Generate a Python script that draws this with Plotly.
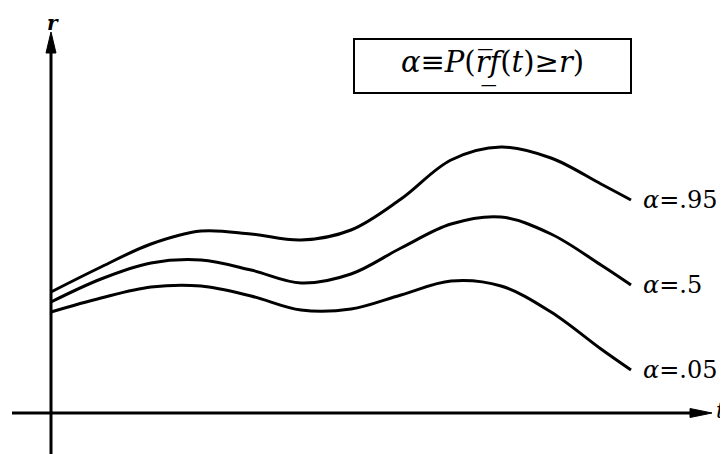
import plotly.graph_objects as go

# sample positions along t and the three quantile curves r(t)
t_vals = [0, 5, 10, 15, 20, 25, 30, 35, 40, 45, 50, 55, 58]
r_95 = [12.1, 14.6, 16.9, 18.2, 17.9, 17.3, 18.3, 21.4, 25.3, 26.6, 25.5, 22.9, 21.3]
r_50 = [11.1, 13.4, 15.0, 15.3, 14.3, 13.0, 13.9, 16.5, 18.9, 19.6, 17.9, 14.8, 12.8]
r_05 = [10.1, 11.5, 12.6, 12.7, 11.7, 10.3, 10.4, 11.8, 13.2, 12.7, 10.1, 6.4, 4.3]

curve_labels = ["=.95", "=.5", "=.05"]
curves = [r_95, r_50, r_05]

# axis extents
t_axis = [-3.9, 66.1]
r_axis = [-4.2, 38.1]

SERIF = "DejaVu Serif, Liberation Serif, serif"

fig = go.Figure()

for r in curves:
    fig.add_trace(go.Scatter(
        x=t_vals, y=r,
        mode="lines",
        line=dict(color="black", width=3, shape="spline", smoothing=1.0),
        hoverinfo="skip",
    ))

# axes drawn as lines with filled arrowheads
shapes = [
    dict(type="line", xref="x", yref="y", x0=0, x1=0, y0=r_axis[0], y1=r_axis[1] - 1.5,
         line=dict(color="black", width=3)),
    dict(type="line", xref="x", yref="y", x0=t_axis[0], x1=t_axis[1] - 1.5, y0=0, y1=0,
         line=dict(color="black", width=3)),
    dict(type="path", xref="x", yref="y",
         path=f"M -0.5,{r_axis[1] - 2.1} L 0,{r_axis[1]} L 0.5,{r_axis[1] - 2.1} Z",
         fillcolor="black", line=dict(color="black", width=1)),
    dict(type="path", xref="x", yref="y",
         path=f"M {t_axis[1] - 2.2},-0.45 L {t_axis[1]},0 L {t_axis[1] - 2.2},0.45 Z",
         fillcolor="black", line=dict(color="black", width=1)),
]

annotations = [
    dict(x=0.2, y=40.4, yanchor="top", text="<b><i>r</i></b>", showarrow=False,
         font=dict(family=SERIF, size=20, color="black")),
    dict(x=67.6, y=0.3, xanchor="right", text="<i>t</i>", showarrow=False,
         font=dict(family=SERIF, size=22, color="black")),
    dict(x=44.15, y=34.7,
         text="<i>α</i>≡<i>P</i>(<i>r\u0305</i><i>f\u0332</i>(<i>t</i>)≥<i>r</i>)",
         showarrow=False, width=275, height=52, borderpad=0,
         bordercolor="black", borderwidth=2, bgcolor="white",
         font=dict(family=SERIF, size=29, color="black")),
]

for r, lab in zip(curves, curve_labels):
    annotations.append(dict(
        x=t_vals[-1] + 1.0, y=r[-1], xanchor="left", yanchor="middle",
        text=f"<i>α</i>{lab}", showarrow=False,
        font=dict(family=SERIF, size=24, color="black"),
    ))

# the page body adds an 8px margin, so the figure is sized to fit the window
fig.update_layout(
    width=720, height=446,
    margin=dict(l=0, r=0, t=0, b=0),
    paper_bgcolor="white", plot_bgcolor="white",
    showlegend=False,
    xaxis=dict(range=[-4.3, 67.7], visible=False, fixedrange=True),
    yaxis=dict(range=[-4.1, 40.5], visible=False, fixedrange=True),
    shapes=shapes,
    annotations=annotations,
)

fig.write_html("out.html")
